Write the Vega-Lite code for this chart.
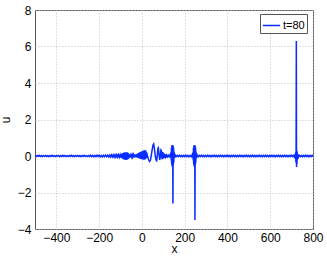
{
  "$schema": "https://vega.github.io/schema/vega-lite/v6.json",
  "width": 278,
  "height": 219,
  "autosize": "none",
  "padding": {"left": 35, "top": 10, "right": 14, "bottom": 30},
  "background": "white",
  "config": {
    "font": "Liberation Sans",
    "view": {"stroke": "#555", "strokeWidth": 1},
    "axis": {"labelFontSize": 12, "labelColor": "#000", "titleFontSize": 12, "titleFontWeight": "normal", "titleColor": "#000", "grid": true, "gridColor": "#c0c0c0", "gridDash": [1, 2], "domain": false, "ticks": false, "labelFlush": false}
  },
  "data": {"values": [
    {"x": -500, "u": 0.02}, {"x": -495, "u": -0.03}, {"x": -490, "u": 0.03}, {"x": -485, "u": -0.02}, {"x": -480, "u": 0.04}, {"x": -475, "u": -0.03}, {"x": -470, "u": 0.02}, {"x": -465, "u": -0.04}, {"x": -460, "u": 0.03}, {"x": -455, "u": -0.02},
    {"x": -450, "u": 0.03}, {"x": -445, "u": -0.03}, {"x": -440, "u": 0.02}, {"x": -435, "u": -0.04}, {"x": -430, "u": 0.03}, {"x": -425, "u": -0.02}, {"x": -420, "u": 0.04}, {"x": -415, "u": -0.03}, {"x": -410, "u": 0.02}, {"x": -405, "u": -0.03},
    {"x": -400, "u": 0.03}, {"x": -395, "u": -0.02}, {"x": -390, "u": 0.03}, {"x": -385, "u": -0.04}, {"x": -380, "u": 0.02}, {"x": -375, "u": -0.03}, {"x": -370, "u": 0.04}, {"x": -365, "u": -0.02}, {"x": -360, "u": 0.03}, {"x": -355, "u": -0.03},
    {"x": -350, "u": 0.02}, {"x": -345, "u": -0.03}, {"x": -340, "u": 0.03}, {"x": -335, "u": -0.02}, {"x": -330, "u": 0.04}, {"x": -325, "u": -0.03}, {"x": -320, "u": 0.02}, {"x": -315, "u": -0.04}, {"x": -310, "u": 0.03}, {"x": -305, "u": -0.02},
    {"x": -300, "u": 0.03}, {"x": -295, "u": -0.03}, {"x": -290, "u": 0.02}, {"x": -285, "u": -0.04}, {"x": -280, "u": 0.03}, {"x": -275, "u": -0.02}, {"x": -270, "u": 0.04}, {"x": -265, "u": -0.03}, {"x": -260, "u": 0.02}, {"x": -255, "u": -0.03},
    {"x": -250, "u": 0.03}, {"x": -245, "u": -0.03}, {"x": -240, "u": 0.04}, {"x": -235, "u": -0.03}, {"x": -230, "u": 0.03}, {"x": -225, "u": -0.04}, {"x": -220, "u": 0.03}, {"x": -215, "u": -0.03}, {"x": -210, "u": 0.04}, {"x": -205, "u": -0.03},
    {"x": -200, "u": 0.04}, {"x": -195, "u": -0.04}, {"x": -190, "u": 0.03}, {"x": -185, "u": -0.05}, {"x": -180, "u": 0.04}, {"x": -175, "u": -0.04}, {"x": -170, "u": 0.05}, {"x": -165, "u": -0.04}, {"x": -160, "u": 0.05}, {"x": -155, "u": -0.05},
    {"x": -150, "u": 0.05}, {"x": -146, "u": -0.05}, {"x": -142, "u": 0.06}, {"x": -138, "u": -0.05}, {"x": -134, "u": 0.06}, {"x": -130, "u": -0.06}, {"x": -126, "u": 0.06}, {"x": -122, "u": -0.06}, {"x": -118, "u": 0.07}, {"x": -114, "u": -0.06},
    {"x": -110, "u": 0.07}, {"x": -106, "u": -0.07}, {"x": -102, "u": 0.07},
    {"x": -99, "u": -0.08}, {"x": -97, "u": 0.1}, {"x": -95, "u": -0.11}, {"x": -93, "u": 0.13}, {"x": -91, "u": -0.14}, {"x": -89, "u": 0.16}, {"x": -87, "u": -0.17}, {"x": -85, "u": 0.18}, {"x": -83, "u": -0.19}, {"x": -81, "u": 0.2},
    {"x": -79, "u": -0.21}, {"x": -77, "u": 0.21}, {"x": -75, "u": -0.22}, {"x": -73, "u": 0.21}, {"x": -71, "u": -0.21}, {"x": -69, "u": 0.2}, {"x": -67, "u": -0.19}, {"x": -65, "u": 0.17}, {"x": -63, "u": -0.15}, {"x": -61, "u": 0.12},
    {"x": -59, "u": -0.1}, {"x": -57, "u": 0.08}, {"x": -55, "u": -0.07}, {"x": -52, "u": 0.06}, {"x": -49, "u": -0.06}, {"x": -46, "u": 0.07}, {"x": -43, "u": -0.06}, {"x": -40, "u": 0.07}, {"x": -37, "u": -0.07}, {"x": -34, "u": 0.08},
    {"x": -31, "u": -0.07}, {"x": -28, "u": 0.09}, {"x": -25, "u": -0.08}, {"x": -22, "u": 0.11}, {"x": -20, "u": -0.09}, {"x": -18, "u": 0.14}, {"x": -16, "u": -0.11}, {"x": -14, "u": 0.17}, {"x": -12, "u": -0.13}, {"x": -10, "u": 0.2},
    {"x": -8, "u": -0.15}, {"x": -6, "u": 0.22}, {"x": -4, "u": -0.17}, {"x": -2, "u": 0.25}, {"x": 0, "u": -0.18}, {"x": 2, "u": 0.27}, {"x": 4, "u": -0.19}, {"x": 6, "u": 0.29}, {"x": 8, "u": -0.2}, {"x": 10, "u": 0.31},
    {"x": 12, "u": -0.2}, {"x": 14, "u": 0.32}, {"x": 16, "u": -0.18}, {"x": 18, "u": 0.3}, {"x": 20, "u": -0.12}, {"x": 22, "u": 0.2}, {"x": 25, "u": 0.05}, {"x": 28, "u": -0.1}, {"x": 32, "u": -0.22}, {"x": 36, "u": -0.3},
    {"x": 40, "u": -0.22}, {"x": 44, "u": 0.05}, {"x": 48, "u": 0.35}, {"x": 52, "u": 0.6}, {"x": 55, "u": 0.66}, {"x": 58, "u": 0.45}, {"x": 62, "u": 0.05}, {"x": 66, "u": -0.22}, {"x": 69, "u": -0.26}, {"x": 72, "u": 0.05},
    {"x": 75, "u": 0.42}, {"x": 77, "u": 0.45}, {"x": 80, "u": 0.1}, {"x": 83, "u": -0.22}, {"x": 86, "u": -0.05}, {"x": 89, "u": 0.33}, {"x": 91, "u": 0.3}, {"x": 93, "u": -0.05}, {"x": 95, "u": -0.18}, {"x": 97, "u": 0.22},
    {"x": 99, "u": -0.15}, {"x": 101, "u": 0.18}, {"x": 103, "u": -0.12}, {"x": 105, "u": 0.12}, {"x": 107, "u": -0.1}, {"x": 109, "u": 0.08}, {"x": 112, "u": -0.06}, {"x": 115, "u": 0.05}, {"x": 119, "u": -0.05}, {"x": 123, "u": 0.04},
    {"x": 127, "u": -0.04}, {"x": 131, "u": 0.06}, {"x": 134, "u": -0.08}, {"x": 136, "u": 0.2}, {"x": 137, "u": -0.25}, {"x": 138, "u": 0.45}, {"x": 139, "u": -0.45}, {"x": 140, "u": 0.58}, {"x": 141, "u": -0.55}, {"x": 142, "u": 0.6},
    {"x": 143, "u": -0.6}, {"x": 144, "u": 0.6}, {"x": 145, "u": -2.6}, {"x": 146, "u": 0.55}, {"x": 147, "u": -0.5}, {"x": 148, "u": 0.45}, {"x": 149, "u": -0.35}, {"x": 150, "u": 0.25}, {"x": 152, "u": -0.12}, {"x": 155, "u": 0.06},
    {"x": 160, "u": -0.04}, {"x": 165, "u": 0.03}, {"x": 170, "u": -0.03}, {"x": 175, "u": 0.04}, {"x": 180, "u": -0.03}, {"x": 185, "u": 0.03}, {"x": 190, "u": -0.04}, {"x": 195, "u": 0.03}, {"x": 200, "u": -0.03}, {"x": 205, "u": 0.04},
    {"x": 210, "u": -0.03}, {"x": 215, "u": 0.03}, {"x": 220, "u": -0.04}, {"x": 225, "u": 0.03}, {"x": 230, "u": -0.04}, {"x": 234, "u": 0.05}, {"x": 237, "u": -0.08}, {"x": 239, "u": 0.2}, {"x": 240, "u": -0.25}, {"x": 241, "u": 0.45},
    {"x": 242, "u": -0.45}, {"x": 243, "u": 0.58}, {"x": 244, "u": -0.55}, {"x": 245, "u": 0.6}, {"x": 246, "u": -0.6}, {"x": 247, "u": 0.6}, {"x": 248, "u": -3.5}, {"x": 249, "u": 0.55}, {"x": 250, "u": -0.5}, {"x": 251, "u": 0.45},
    {"x": 252, "u": -0.35}, {"x": 253, "u": 0.25}, {"x": 255, "u": -0.12}, {"x": 258, "u": 0.06}, {"x": 263, "u": -0.04}, {"x": 268, "u": 0.03}, {"x": 273, "u": -0.03}, {"x": 278, "u": 0.04}, {"x": 283, "u": -0.03}, {"x": 288, "u": 0.03},
    {"x": 293, "u": -0.04}, {"x": 298, "u": 0.03}, {"x": 303, "u": -0.03}, {"x": 308, "u": 0.04}, {"x": 313, "u": -0.03}, {"x": 318, "u": 0.03}, {"x": 323, "u": -0.04}, {"x": 328, "u": 0.03}, {"x": 333, "u": -0.03}, {"x": 338, "u": 0.04},
    {"x": 343, "u": -0.03}, {"x": 348, "u": 0.03}, {"x": 353, "u": -0.04}, {"x": 358, "u": 0.03}, {"x": 363, "u": -0.03}, {"x": 368, "u": 0.04}, {"x": 373, "u": -0.03}, {"x": 378, "u": 0.03}, {"x": 383, "u": -0.04}, {"x": 388, "u": 0.03},
    {"x": 393, "u": -0.03}, {"x": 398, "u": 0.04}, {"x": 403, "u": -0.03}, {"x": 408, "u": 0.03}, {"x": 413, "u": -0.04}, {"x": 418, "u": 0.03}, {"x": 423, "u": -0.03}, {"x": 428, "u": 0.04}, {"x": 433, "u": -0.03}, {"x": 438, "u": 0.03},
    {"x": 443, "u": -0.04}, {"x": 448, "u": 0.03}, {"x": 453, "u": -0.03}, {"x": 458, "u": 0.04}, {"x": 463, "u": -0.03}, {"x": 468, "u": 0.03}, {"x": 473, "u": -0.04}, {"x": 478, "u": 0.03}, {"x": 483, "u": -0.03}, {"x": 488, "u": 0.04},
    {"x": 493, "u": -0.03}, {"x": 498, "u": 0.03}, {"x": 503, "u": -0.04}, {"x": 508, "u": 0.03}, {"x": 513, "u": -0.03}, {"x": 518, "u": 0.04}, {"x": 523, "u": -0.03}, {"x": 528, "u": 0.03}, {"x": 533, "u": -0.04}, {"x": 538, "u": 0.03},
    {"x": 543, "u": -0.03}, {"x": 548, "u": 0.04}, {"x": 553, "u": -0.03}, {"x": 558, "u": 0.03}, {"x": 563, "u": -0.04}, {"x": 568, "u": 0.03}, {"x": 573, "u": -0.03}, {"x": 578, "u": 0.04}, {"x": 583, "u": -0.03}, {"x": 588, "u": 0.03},
    {"x": 593, "u": -0.04}, {"x": 598, "u": 0.03}, {"x": 603, "u": -0.03}, {"x": 608, "u": 0.04}, {"x": 613, "u": -0.03}, {"x": 618, "u": 0.03}, {"x": 623, "u": -0.04}, {"x": 628, "u": 0.03}, {"x": 633, "u": -0.03}, {"x": 638, "u": 0.04},
    {"x": 643, "u": -0.03}, {"x": 648, "u": 0.03}, {"x": 653, "u": -0.04}, {"x": 658, "u": 0.03}, {"x": 663, "u": -0.03}, {"x": 668, "u": 0.04}, {"x": 673, "u": -0.03}, {"x": 678, "u": 0.03}, {"x": 683, "u": -0.04}, {"x": 688, "u": 0.03},
    {"x": 693, "u": -0.03}, {"x": 698, "u": 0.04}, {"x": 703, "u": -0.03}, {"x": 708, "u": 0.04}, {"x": 712, "u": -0.05}, {"x": 716, "u": 0.08}, {"x": 718, "u": -0.15}, {"x": 719, "u": 0.2}, {"x": 720, "u": -0.35}, {"x": 721, "u": 0.3},
    {"x": 722, "u": 6.3}, {"x": 723, "u": -0.6}, {"x": 724, "u": 0.3}, {"x": 725, "u": -0.45}, {"x": 726, "u": 0.25}, {"x": 727, "u": -0.2}, {"x": 729, "u": 0.1}, {"x": 732, "u": -0.06}, {"x": 736, "u": 0.04}, {"x": 741, "u": -0.03},
    {"x": 746, "u": 0.03}, {"x": 751, "u": -0.04}, {"x": 756, "u": 0.03}, {"x": 761, "u": -0.03}, {"x": 766, "u": 0.04}, {"x": 771, "u": -0.03}, {"x": 776, "u": 0.03}, {"x": 781, "u": -0.04}, {"x": 786, "u": 0.03}, {"x": 791, "u": -0.03},
    {"x": 796, "u": 0.04}, {"x": 800, "u": -0.03}
  ]},
  "mark": {"type": "line", "strokeWidth": 1.5, "clip": true},
  "encoding": {
    "x": {"field": "x", "type": "quantitative", "scale": {"domain": [-500, 800], "nice": false}, "axis": {"values": [-400, -200, 0, 200, 400, 600, 800], "title": "x", "labelPadding": 3, "titlePadding": 0}},
    "y": {"field": "u", "type": "quantitative", "scale": {"domain": [-4, 8], "nice": false}, "axis": {"values": [-4, -2, 0, 2, 4, 6, 8], "title": "u", "labelPadding": 4, "titlePadding": 5}},
    "color": {"datum": "t=80", "type": "nominal", "scale": {"range": ["#0a2cff"]}, "legend": {"title": null, "orient": "none", "legendX": 225, "legendY": 4, "symbolType": "stroke", "symbolStrokeWidth": 1.5, "symbolSize": 300, "labelFontSize": 11, "labelColor": "#000", "strokeColor": "#555", "fillColor": "white", "padding": 2, "labelOffset": 2, "symbolOffset": 0}}
  }
}
